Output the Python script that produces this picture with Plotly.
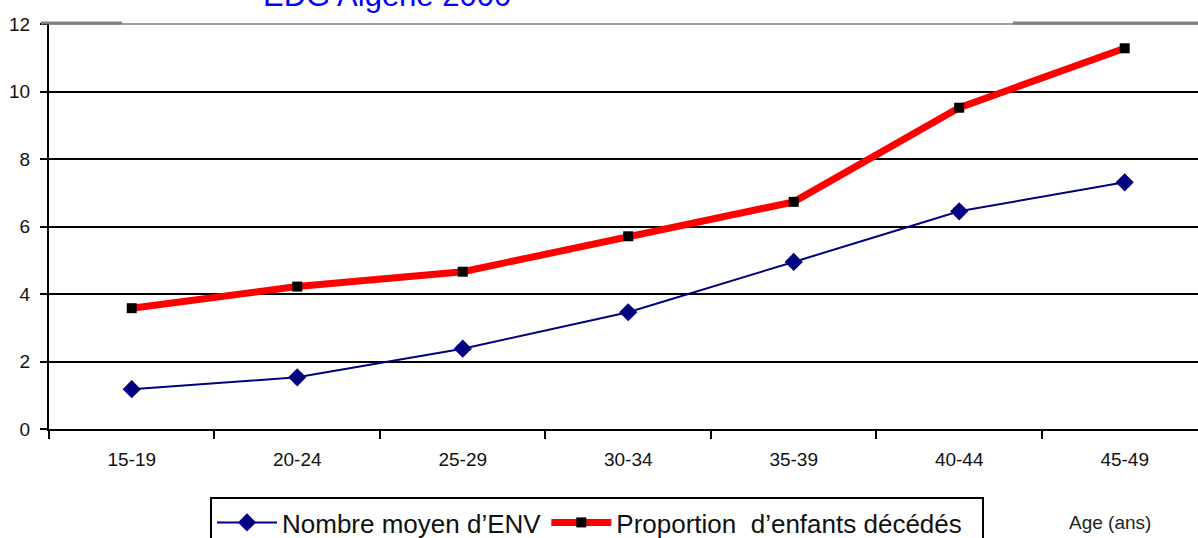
import plotly.graph_objects as go

age_groups = ["15-19", "20-24", "25-29", "30-34", "35-39", "40-44", "45-49"]
nb_moyen_env = [1.18, 1.53, 2.38, 3.46, 4.95, 6.45, 7.31]
prop_deces = [3.58, 4.22, 4.66, 5.71, 6.73, 9.52, 11.28]

PLOT_L, PLOT_R, PLOT_T, PLOT_B = 49, 1198, 24, 429
W, H = 1198, 538


def px_x(x):
    return (x - PLOT_L) / (PLOT_R - PLOT_L)


def px_y(y):
    return (PLOT_B - y) / (PLOT_B - PLOT_T)


fig = go.Figure()
fig.add_trace(go.Scatter(
    x=age_groups, y=nb_moyen_env, name="Nombre moyen d\u2019ENV",
    mode="lines+markers",
    line=dict(color="#000080", width=2),
    marker=dict(symbol="diamond", size=14, color="#000080"),
))
fig.add_trace(go.Scatter(
    x=age_groups, y=prop_deces,
    name="Proportion  d\u2019enfants décédés\u00a0\u00a0",
    mode="lines+markers",
    line=dict(color="#FF0000", width=7),
    marker=dict(symbol="square", size=10, color="#000000"),
))

# top border of the chart area (grey, partly thicker)
fig.add_shape(type="line", xref="paper", yref="paper", x0=0, x1=1,
              y0=1, y1=1, line=dict(color="white", width=4), layer="above")
fig.add_shape(type="line", xref="paper", yref="paper", x0=0, x1=1,
              y0=px_y(24), y1=px_y(24), line=dict(color="#808080", width=1.5), layer="above")
for a, b in [(41, 122), (1013, 1198)]:
    fig.add_shape(type="line", xref="paper", yref="paper", x0=px_x(a), x1=px_x(b),
                  y0=px_y(23), y1=px_y(23), line=dict(color="#808080", width=3), layer="above")

fig.add_annotation(text="EDG Algérie 2000", xref="paper", yref="paper",
                   x=px_x(261), y=px_y(15), xanchor="left", yanchor="bottom",
                   showarrow=False, font=dict(size=31, color="#0000FF"))
fig.add_annotation(text="Age (ans)", xref="paper", yref="paper",
                   x=px_x(1110), y=px_y(522), xanchor="center", yanchor="middle",
                   showarrow=False, font=dict(size=19, color="#222222"))

fig.update_layout(
    width=W, height=H,
    margin=dict(l=PLOT_L, r=W - PLOT_R, t=PLOT_T, b=H - PLOT_B, pad=0, autoexpand=False),
    paper_bgcolor="white", plot_bgcolor="white",
    font=dict(family="Arial, Liberation Sans, sans-serif", color="#111111"),
    showlegend=True,
    legend=dict(
        orientation="h", x=px_x(210), y=px_y(497), xanchor="left", yanchor="top",
        bordercolor="black", borderwidth=2, bgcolor="white",
        font=dict(size=26, color="#111111"),
        itemwidth=60, tracegroupgap=0,
    ),
    xaxis=dict(
        type="category", range=[-0.5, 6.443],
        showgrid=False, showline=True, linecolor="black", linewidth=2,
        ticks="outside", tickson="boundaries", ticklen=8, tickwidth=2, tickcolor="black",
        tickfont=dict(size=19, color="#111111"), ticklabelstandoff=12,
        zeroline=False,
    ),
    yaxis=dict(
        range=[0, 12], tickvals=[0, 2, 4, 6, 8, 10, 12],
        showgrid=True, gridcolor="black", gridwidth=2,
        showline=True, linecolor="black", linewidth=2,
        ticks="outside", ticklen=7, tickwidth=2, tickcolor="black",
        tickfont=dict(size=19, color="#111111"), ticklabelstandoff=6,
        zeroline=False,
    ),
)

fig.write_html(
    "out.html",
    config={"displayModeBar": False},
    post_script="document.body.style.margin='0';document.body.style.overflow='hidden';",
)
